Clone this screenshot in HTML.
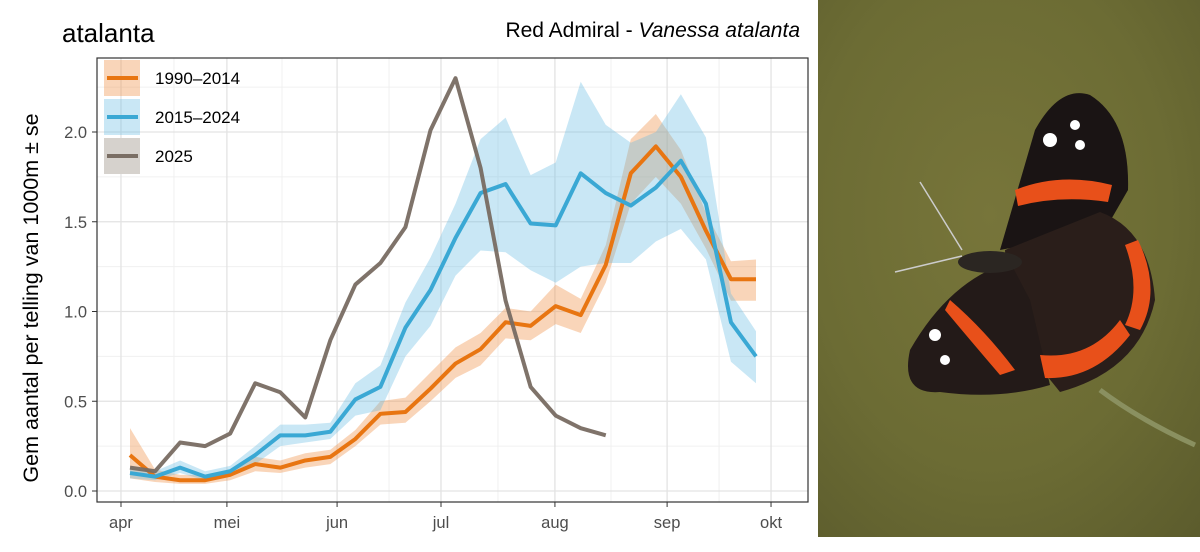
<!DOCTYPE html>
<html><head><meta charset="utf-8"><style>
body{margin:0;width:1200px;height:547px;background:#fff;overflow:hidden;font-family:"Liberation Sans",sans-serif}
</style></head><body>
<svg width="1200" height="547" font-family="Liberation Sans, sans-serif">
<defs>
<radialGradient id="bg" cx="0.45" cy="0.4" r="0.85"><stop offset="0" stop-color="#77753a"/><stop offset="0.55" stop-color="#6c6c34"/><stop offset="1" stop-color="#5a5a2c"/></radialGradient>
</defs>
<g id="photo">
<rect x="818" y="0" width="382" height="537" fill="url(#bg)"/>
<path d="M1100,390 Q1140,420 1195,445" stroke="#8a9060" stroke-width="5" fill="none"/>
<path d="M1000,250 L1035,130 Q1060,85 1090,95 Q1130,120 1128,190 L1105,230 Z" fill="#1a1414"/>
<path d="M1005,250 L1100,212 Q1150,230 1155,300 Q1140,370 1060,392 L1010,330 Z" fill="#2a1e1a"/>
<path d="M1010,262 Q950,280 910,350 Q900,395 940,392 Q1000,400 1050,385 L1030,300 Z" fill="#231a18"/>
<path d="M1015,190 Q1060,172 1112,185 L1108,202 Q1060,195 1018,206 Z" fill="#e8501a"/>
<path d="M1138,240 Q1162,290 1140,330 L1125,325 Q1142,290 1125,245 Z" fill="#e8501a"/>
<path d="M950,300 Q985,330 1015,370 L1000,375 Q970,340 945,310 Z" fill="#e8501a"/>
<path d="M1040,355 Q1090,360 1120,320 L1130,335 Q1095,380 1045,378 Z" fill="#e8501a"/>
<circle cx="1050" cy="140" r="7" fill="#fff"/><circle cx="1075" cy="125" r="5" fill="#fff"/><circle cx="1080" cy="145" r="5" fill="#fff"/><circle cx="935" cy="335" r="6" fill="#fff"/><circle cx="945" cy="360" r="5" fill="#fff"/>
<ellipse cx="990" cy="262" rx="32" ry="11" fill="#2b2622"/>
<path d="M962,250 L920,182 M962,256 L895,272" stroke="#ccc" stroke-width="1.5"/>
</g>
<text x="62" y="42" font-size="26" fill="#000">atalanta</text>
<text x="800" y="37" font-size="21" text-anchor="end" fill="#000">Red Admiral - <tspan font-style="italic">Vanessa atalanta</tspan></text>
<text transform="translate(38,298) rotate(-90)" font-size="21.5" text-anchor="middle" fill="#000">Gem aantal per telling van 1000m ± se</text>
<g id="grid"></g>
<g id="bands"></g>
<g id="lines"></g>
<g id="axes"></g>
<rect x="97" y="58" width="711" height="444" fill="none" stroke="#333" stroke-width="1.2"/>
<g id="legend"></g>
</svg>
<script>
const yTicks=[0,0.5,1.0,1.5,2.0];
const yTickLabels=["0.0","0.5","1.0","1.5","2.0"];
const monthLabels=["apr","mei","jun","jul","aug","sep","okt"];
const monthWeeks=[-0.36,3.87,8.27,12.42,16.97,21.45,25.6];
const series1990=[0.20,0.08,0.06,0.06,0.09,0.15,0.13,0.17,0.19,0.29,0.43,0.44,0.57,0.71,0.79,0.94,0.92,1.03,0.98,1.26,1.77,1.92,1.75,1.45,1.18,1.18];
const lo1990=[0.07,0.05,0.04,0.04,0.06,0.11,0.10,0.13,0.15,0.25,0.37,0.38,0.50,0.63,0.70,0.85,0.84,0.93,0.88,1.16,1.60,1.75,1.60,1.35,1.06,1.06];
const hi1990=[0.35,0.12,0.09,0.09,0.12,0.19,0.17,0.21,0.23,0.34,0.50,0.52,0.66,0.80,0.88,1.02,1.00,1.15,1.07,1.37,1.96,2.10,1.90,1.55,1.28,1.29];
const series2015=[0.10,0.08,0.13,0.08,0.11,0.20,0.31,0.31,0.33,0.51,0.58,0.91,1.12,1.41,1.66,1.71,1.49,1.48,1.77,1.66,1.59,1.69,1.84,1.60,0.94,0.75];
const lo2015=[0.07,0.06,0.10,0.06,0.08,0.15,0.25,0.27,0.29,0.42,0.45,0.75,0.92,1.20,1.34,1.33,1.23,1.16,1.25,1.27,1.27,1.39,1.46,1.29,0.72,0.60];
const hi2015=[0.13,0.11,0.17,0.11,0.14,0.25,0.37,0.37,0.38,0.60,0.70,1.05,1.30,1.60,1.96,2.08,1.76,1.83,2.28,2.04,1.94,2.00,2.21,1.97,1.10,0.89];
const series2025=[0.13,0.11,0.27,0.25,0.32,0.60,0.55,0.41,0.84,1.15,1.27,1.47,2.01,2.30,1.80,1.06,0.58,0.42,0.35,0.31];
const NS='http://www.w3.org/2000/svg';
const X=w=>130+w*25.04;
const Y=v=>491-v*179.5;
function mk(tag,attrs,parent){const e=document.createElementNS(NS,tag);for(const k in attrs)e.setAttribute(k,attrs[k]);document.getElementById(parent).appendChild(e);return e;}
for(let v=0.25;v<2.41;v+=0.5){const e=mk('line',{x1:97,x2:808,y1:Y(v),y2:Y(v),stroke:'#f0f0f0','stroke-width':1},'grid');

}
for(let i=0;i<monthWeeks.length-1;i++){const m=(monthWeeks[i]+monthWeeks[i+1])/2;const e=mk('line',{x1:X(m),x2:X(m),y1:58,y2:502,stroke:'#f0f0f0','stroke-width':1},'grid');

}
yTicks.forEach((v,i)=>{const e=mk('line',{x1:97,x2:808,y1:Y(v),y2:Y(v),stroke:'#e3e3e3','stroke-width':1.3},'grid');


const t=mk('text',{x:87,y:Y(v)+6,'font-size':16.5,'text-anchor':'end',fill:'#4d4d4d'},'axes');t.textContent=yTickLabels[i];


const tk=mk('line',{x1:92,x2:97,y1:Y(v),y2:Y(v),stroke:'#333'},'axes');

});
monthWeeks.forEach((w,i)=>{const e=mk('line',{x1:X(w),x2:X(w),y1:58,y2:502,stroke:'#e3e3e3','stroke-width':1.3},'grid');


const tk=mk('line',{x1:X(w),x2:X(w),y1:502,y2:507,stroke:'#333'},'axes');


const t=mk('text',{x:X(w),y:528,'font-size':16.5,'text-anchor':'middle',fill:'#4d4d4d'},'axes');t.textContent=monthLabels[i];

});
function band(lo,hi,fill,name){let d='';hi.forEach((v,i)=>d+=(i?'L':'M')+X(i)+','+Y(v));for(let i=lo.length-1;i>=0;i--)d+='L'+X(i)+','+Y(lo[i]);d+='Z';
const e=mk('path',{d:d,fill:fill},'bands');

}
band(lo1990,hi1990,'rgba(240,150,80,0.4)','band-1990-2014');
band(lo2015,hi2015,'rgba(100,185,225,0.35)','band-2015-2024');
function line(s,col,name){const d=s.map((v,i)=>(i?'L':'M')+X(i)+','+Y(v)).join('');
const e=mk('path',{d:d,fill:'none',stroke:col,'stroke-width':4,'stroke-linejoin':'round'},'lines');

}
line(series1990,'#e87511','line-1990-2014');
line(series2015,'#3aa8d4','line-2015-2024');
line(series2025,'rgba(120,108,98,0.95)','line-2025');
const leg=[['1990–2014','rgba(240,150,80,0.4)','#e87511'],['2015–2024','rgba(100,185,225,0.35)','#3aa8d4'],['2025','#d6d2cd','#7a6e64']];
leg.forEach((l,i)=>{const cy=78+i*39;
const r=mk('rect',{x:104,y:cy-18,width:36,height:36,fill:l[1]},'legend');


const ln=mk('line',{x1:107,x2:138,y1:cy,y2:cy,stroke:l[2],'stroke-width':4},'legend');


const t=mk('text',{x:155,y:cy+6,'font-size':17,fill:'#000'},'legend');t.textContent=l[0];

});
</script>
</body></html>
